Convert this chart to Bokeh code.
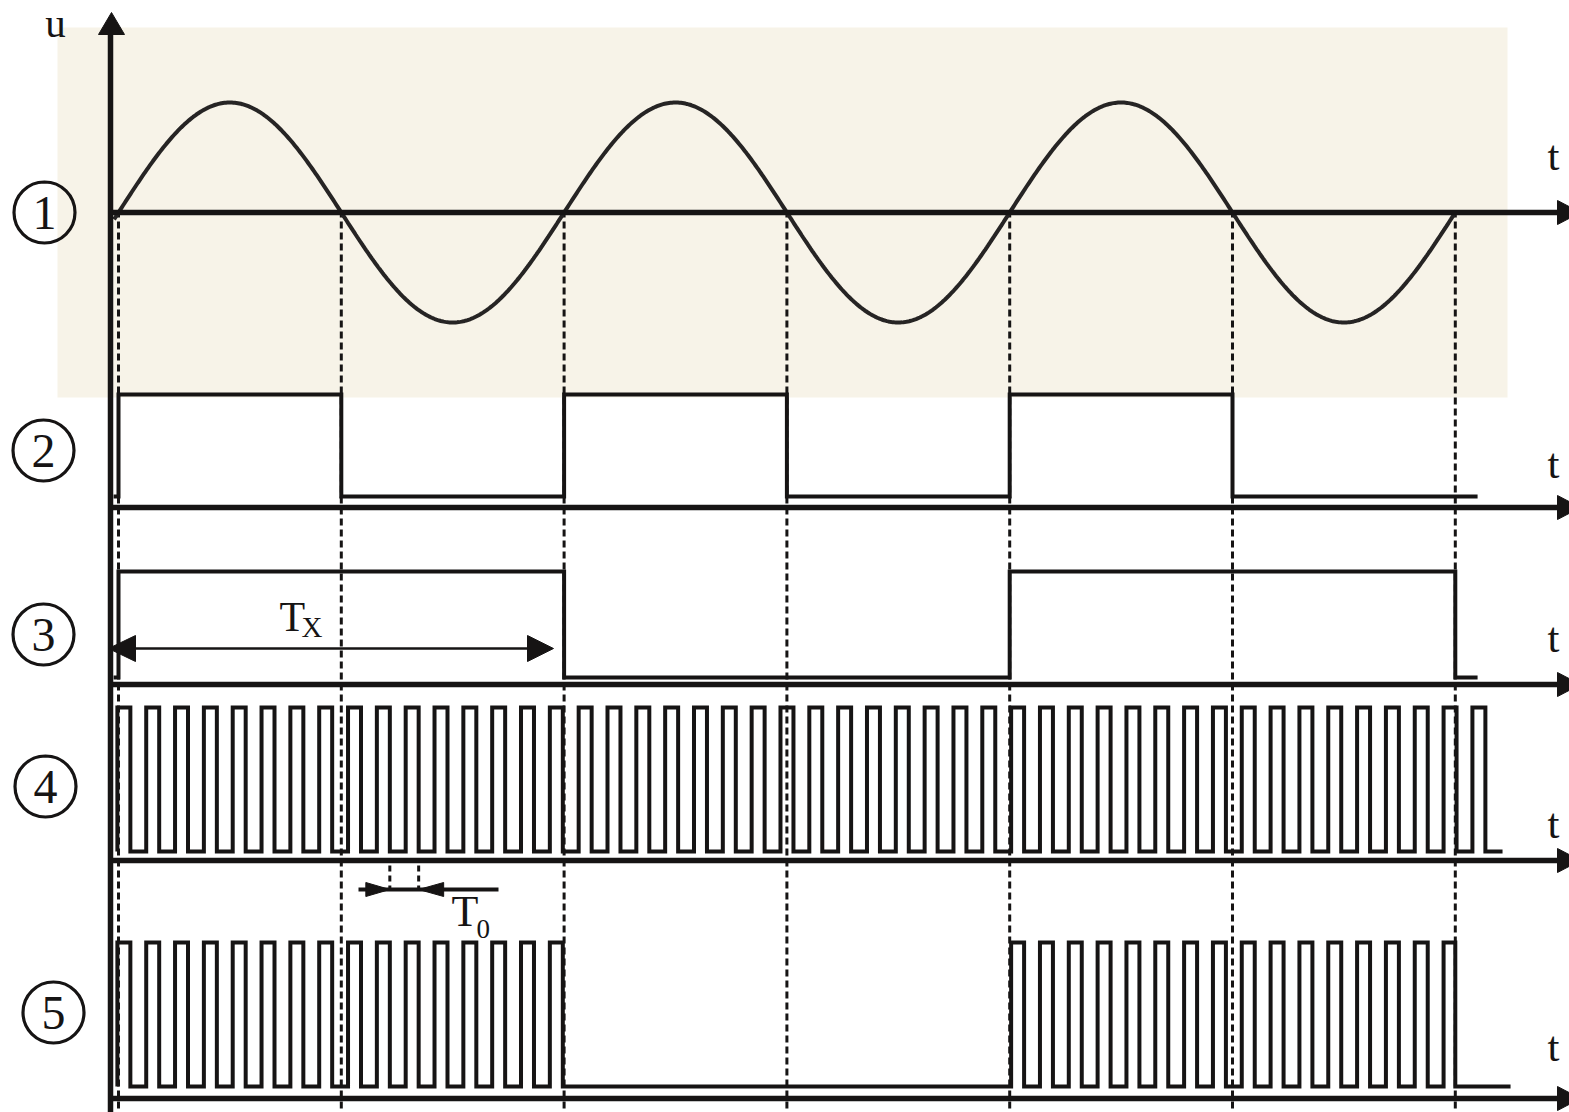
import numpy as np
from bokeh.plotting import figure
from bokeh.models import Range1d
from bokeh.core.properties import value
from bokeh.embed import file_html
from bokeh.resources import INLINE

# ---------------- data (time in half-periods of u) ----------------
crossings = [0, 1, 2, 3, 4, 5, 6]        # zero crossings of the sine u(t)
sine_amplitude = 110                      # peak of u (drawing units)
row2_edges = [0, 1, 2, 3, 4, 5]           # comparator output toggles
row3_edges = [0, 2, 4, 6]                 # flip-flop (gate, Tx) toggles
clock_start = -0.005                      # first clock rise
clock_period = 0.1294                     # T0
clock_duty = 0.45
clock_count = 48
row_labels = ["1", "2", "3", "4", "5"]
t_end = {2: 6.10, 3: 6.10, 4: 6.212, 5: 6.248}

# ---------------- layout (drawing units, y downwards) ----------------
X0, UNIT = 118.0, 222.8          # px of t=0, px per half period
PX = 1.0 / UNIT                  # one pixel in time units
def tx(px):
    return (px - X0) / UNIT

def bl(y, size):                 # baseline correction for the svg text
    return y - 0.33 * size

axis_y = [212, 507, 684, 860, 1098]
high_y = [None, 394, 571, 707, 942]
low_y = [None, 496, 677, 851, 1086]
label_pos = [(44, 212), (43, 450), (43, 634), (45, 786), (53, 1012)]
t_label_base = [169, 477, 651, 837, 1060]

W, H = 1569, 1112
p = figure(width=W, height=H, output_backend="svg", toolbar_location=None,
           x_range=Range1d(tx(0), tx(W)), y_range=Range1d(H, 0),
           x_axis_location=None, y_axis_location=None, min_border=0,
           background_fill_color="white", border_fill_color="white")
p.outline_line_color = None
p.grid.visible = False

INK = "#161414"
SERIF = value("Liberation Serif")

def label(x, y, s, size, align="left"):
    p.text(x=[tx(x)], y=[bl(y, size)], text=[s], text_font=SERIF,
           text_font_size=value(f"{size}px"), text_align=align,
           text_baseline="alphabetic", text_color=INK)

# beige background of row 1
p.quad(left=[tx(57)], right=[tx(1507)], top=[27], bottom=[397],
       fill_color="#F7F3E8", line_color=None)

# dashed guides at zero crossings
p.segment(x0=crossings, x1=crossings, y0=[210] * len(crossings), y1=[1112] * len(crossings),
          line_color=INK, line_width=3, line_dash="7 4")

# sine u(t)
ts = np.linspace(-0.02, crossings[-1], 900)
p.line(ts, axis_y[0] - sine_amplitude * np.sin(np.pi * ts), line_color="#262424",
       line_width=4)

def toggle_wave(edges, start, end, lo, hi):
    xs, ys, lvl = [start], [lo], 0
    for e in edges:
        cur = hi if lvl else lo
        lvl = 1 - lvl
        new = hi if lvl else lo
        xs += [e, e]
        ys += [cur, new]
    xs.append(end)
    ys.append(hi if lvl else lo)
    return xs, ys

# row 2 and row 3
for r, edges in ((1, row2_edges), (2, row3_edges)):
    xs, ys = toggle_wave(edges, -0.022, t_end[r + 1], low_y[r], high_y[r])
    p.line(xs, ys, line_color=INK, line_width=4, line_join="miter")

# clock pulses (row 4) and gated pulses (row 5)
rises = [clock_start + k * clock_period for k in range(clock_count)]
falls = [r + clock_duty * clock_period for r in rises]

def pulse_wave(pairs, start, end, lo, hi):
    xs, ys = [start], [lo]
    for a, b in pairs:
        xs += [a, a, b, b]
        ys += [lo, hi, hi, lo]
    xs.append(end)
    ys.append(lo)
    return xs, ys

xs, ys = pulse_wave(list(zip(rises, falls)), clock_start, t_end[4], low_y[3], high_y[3])
p.line(xs, ys, line_color=INK, line_width=4, line_join="miter")

gates = [(row3_edges[i], row3_edges[i + 1]) for i in range(0, len(row3_edges), 2)]
gated = []
for a, b in zip(rises, falls):
    for g0, g1 in gates:
        if g0 - 0.01 <= a < g1:
            gated.append((a, min(b, g1)))
xs, ys = pulse_wave(gated, clock_start, t_end[5], low_y[4], high_y[4])
p.line(xs, ys, line_color=INK, line_width=4, line_join="miter")

# axes: vertical u axis and horizontal t axes with arrowheads
p.segment(x0=[tx(110)], x1=[tx(110)], y0=[30], y1=[1112], line_color=INK, line_width=5.5)
p.patch([tx(98), tx(111), tx(124)], [34, 12, 34], fill_color=INK, line_color=INK)
p.segment(x0=[tx(110)] * 5, x1=[tx(1562)] * 5, y0=axis_y, y1=axis_y,
          line_color=INK, line_width=5.5)
p.patches([[tx(1557), tx(1580), tx(1557)] for _ in axis_y],
          [[y - 12, y, y + 12] for y in axis_y], fill_color=INK, line_color=INK)

# axis letters
label(55, 36, "u", 41, "center")
for yb in t_label_base:
    label(1553, yb, "t", 43, "center")

# circled row numbers
p.scatter([tx(x) for x, _ in label_pos], [y for _, y in label_pos], marker="circle",
          size=61, fill_color=None, line_color=INK, line_width=3.2)
for (x, y), s in zip(label_pos, row_labels):
    label(x, y + 16, s, 48, "center")

# Tx dimension arrow
ay = 648
p.segment(x0=[tx(130)], x1=[tx(530)], y0=[ay], y1=[ay], line_color=INK, line_width=2.5)
p.patches([[tx(108), tx(135), tx(135)], [tx(553), tx(527), tx(527)]],
          [[ay, ay - 13, ay + 13], [ay, ay - 13, ay + 13]], fill_color=INK, line_color=INK)
label(279, 630, "T", 42)
label(301, 636, "X", 29)

# T0 dimension
d0, d1 = falls[9], falls[10]
by = 889
p.segment(x0=[d0, d1], x1=[d0, d1], y0=[865, 865], y1=[by, by], line_color=INK,
          line_width=3, line_dash="6 4")
p.segment(x0=[tx(358)], x1=[tx(498)], y0=[by], y1=[by], line_color=INK, line_width=4)
p.patches([[d0, d0 - 24 * PX, d0 - 24 * PX], [d1, d1 + 25 * PX, d1 + 25 * PX]],
          [[by, by - 7, by + 7], [by, by - 7, by + 7]], fill_color=INK, line_color=INK)
label(451, 926, "T", 44)
label(476, 937, "0", 27)

open("out.html", "w").write(file_html(p, INLINE))
